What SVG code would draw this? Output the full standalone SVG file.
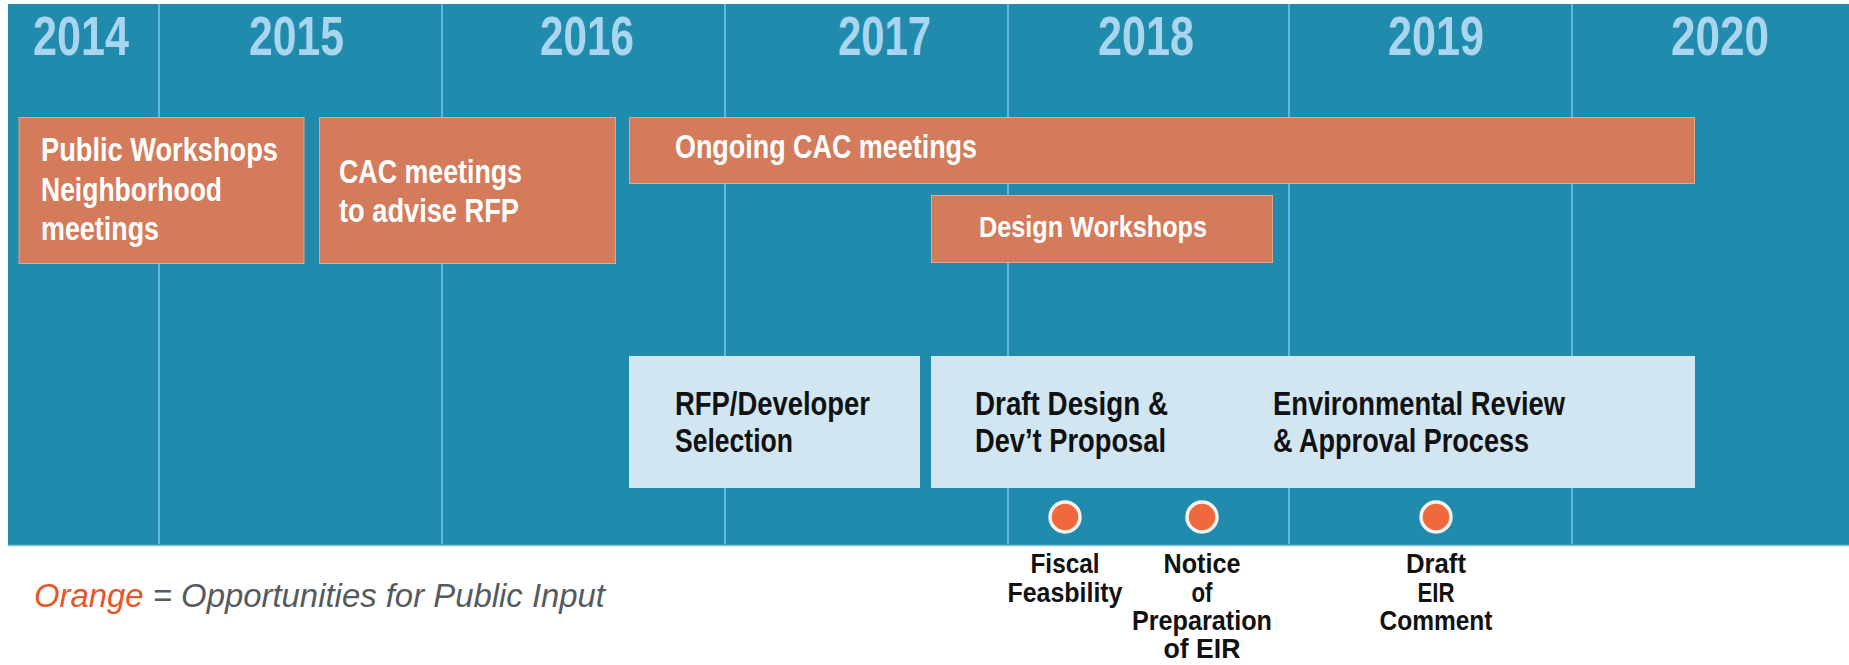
<svg xmlns="http://www.w3.org/2000/svg" width="1849" height="665" viewBox="0 0 1849 665">
<style>
.bg{fill:#218bae}
.grid{stroke:#62b7dc;stroke-width:2}
.year{font-family:"Liberation Sans",Arial,sans-serif;font-weight:bold;font-size:55px;fill:#a9d6ee}
.obox{fill:#d97b58;fill-opacity:0.97;stroke:#e8a488;stroke-width:1}
.lbox{fill:#d8e9f3;fill-opacity:0.97}
.wt{font-family:"Liberation Sans",Arial,sans-serif;font-weight:bold;font-size:33px;fill:#ffffff}
.bt{font-family:"Liberation Sans",Arial,sans-serif;font-weight:bold;font-size:33px;fill:#111111}
.ml{font-family:"Liberation Sans",Arial,sans-serif;font-weight:bold;font-size:28px;fill:#111111;text-anchor:middle}
.dot{fill:#f0683e;stroke:#f7f4f1;stroke-width:3.5}
.leg{font-family:"Liberation Sans",Arial,sans-serif;font-style:italic;font-size:33px;fill:#555a5e}
</style>
<rect class="bg" x="8" y="4" width="1841" height="542"/>
<line x1="8" y1="545.5" x2="1849" y2="545.5" stroke="#7cc3e2" stroke-width="1.5"/>
<g id="gridlines">
<line class="grid" x1="159" y1="4" x2="159" y2="544"/>
<line class="grid" x1="442" y1="4" x2="442" y2="544"/>
<line class="grid" x1="725" y1="4" x2="725" y2="544"/>
<line class="grid" x1="1008" y1="4" x2="1008" y2="544"/>
<line class="grid" x1="1289" y1="4" x2="1289" y2="544"/>
<line class="grid" x1="1572" y1="4" x2="1572" y2="544"/>
</g>
<g id="years">
<text class="year" x="33" y="55" textLength="96" lengthAdjust="spacingAndGlyphs">2014</text>
<text class="year" x="249" y="55" textLength="95" lengthAdjust="spacingAndGlyphs">2015</text>
<text class="year" x="540" y="55" textLength="94" lengthAdjust="spacingAndGlyphs">2016</text>
<text class="year" x="838" y="55" textLength="93" lengthAdjust="spacingAndGlyphs">2017</text>
<text class="year" x="1098" y="55" textLength="96" lengthAdjust="spacingAndGlyphs">2018</text>
<text class="year" x="1388" y="55" textLength="96" lengthAdjust="spacingAndGlyphs">2019</text>
<text class="year" x="1671" y="55" textLength="98" lengthAdjust="spacingAndGlyphs">2020</text>
</g>
<g id="public-workshops">
<rect class="obox" x="19" y="117.5" width="285" height="146"/>
<text class="wt" x="41" y="161" textLength="237" lengthAdjust="spacingAndGlyphs">Public Workshops</text>
<text class="wt" x="41" y="201" textLength="181" lengthAdjust="spacingAndGlyphs">Neighborhood</text>
<text class="wt" x="41" y="240" textLength="118" lengthAdjust="spacingAndGlyphs">meetings</text>
</g>
<g id="cac-rfp">
<rect class="obox" x="319.5" y="117.5" width="296" height="146"/>
<text class="wt" x="339" y="183" textLength="183" lengthAdjust="spacingAndGlyphs">CAC meetings</text>
<text class="wt" x="339" y="222" textLength="180" lengthAdjust="spacingAndGlyphs">to advise RFP</text>
</g>
<g id="ongoing-cac">
<rect class="obox" x="629.5" y="117.5" width="1065" height="66"/>
<text class="wt" x="675" y="158" textLength="302" lengthAdjust="spacingAndGlyphs">Ongoing CAC meetings</text>
</g>
<g id="design-workshops">
<rect class="obox" x="931.5" y="195.5" width="341" height="67"/>
<text class="wt" x="979" y="237" style="font-size:29.5px" textLength="228" lengthAdjust="spacingAndGlyphs">Design Workshops</text>
</g>
<g id="rfp-selection">
<rect class="lbox" x="629" y="356" width="291" height="132"/>
<text class="bt" x="675" y="415" textLength="195" lengthAdjust="spacingAndGlyphs">RFP/Developer</text>
<text class="bt" x="675" y="452" textLength="118" lengthAdjust="spacingAndGlyphs">Selection</text>
</g>
<g id="design-env">
<rect class="lbox" x="931" y="356" width="764" height="132"/>
<text class="bt" x="975" y="415" textLength="193" lengthAdjust="spacingAndGlyphs">Draft Design &amp;</text>
<text class="bt" x="975" y="452" textLength="191" lengthAdjust="spacingAndGlyphs">Dev’t Proposal</text>
<text class="bt" x="1273" y="415" textLength="292" lengthAdjust="spacingAndGlyphs">Environmental Review</text>
<text class="bt" x="1273" y="452" textLength="256" lengthAdjust="spacingAndGlyphs">&amp; Approval Process</text>
</g>
<g id="fiscal">
<circle class="dot" cx="1065" cy="517" r="15"/>
<text class="ml" x="1065" y="573" textLength="69" lengthAdjust="spacingAndGlyphs">Fiscal</text>
<text class="ml" x="1065" y="602" textLength="115" lengthAdjust="spacingAndGlyphs">Feasbility</text>
</g>
<g id="notice">
<circle class="dot" cx="1202" cy="517" r="15"/>
<text class="ml" x="1202" y="573" textLength="77" lengthAdjust="spacingAndGlyphs">Notice</text>
<text class="ml" x="1202" y="602" textLength="21" lengthAdjust="spacingAndGlyphs">of</text>
<text class="ml" x="1202" y="630" textLength="140" lengthAdjust="spacingAndGlyphs">Preparation</text>
<text class="ml" x="1202" y="658" textLength="77" lengthAdjust="spacingAndGlyphs">of EIR</text>
</g>
<g id="draft-eir">
<circle class="dot" cx="1436" cy="517" r="15"/>
<text class="ml" x="1436" y="573" textLength="60" lengthAdjust="spacingAndGlyphs">Draft</text>
<text class="ml" x="1436" y="602" textLength="37" lengthAdjust="spacingAndGlyphs">EIR</text>
<text class="ml" x="1436" y="630" textLength="113" lengthAdjust="spacingAndGlyphs">Comment</text>
</g>
<g id="legend">
<text class="leg" x="34" y="607" textLength="571" lengthAdjust="spacingAndGlyphs"><tspan fill="#e8552a">Orange</tspan> = Opportunities for Public Input</text>
</g>
</svg>
